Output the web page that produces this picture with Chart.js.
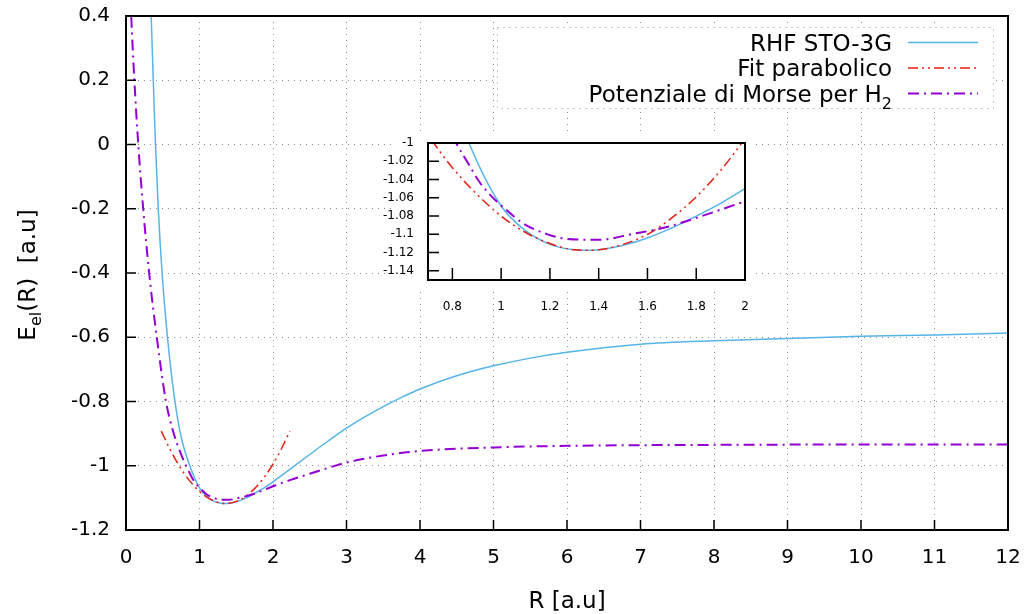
<!DOCTYPE html>
<html>
<head>
<meta charset="utf-8">
<script src="https://cdn.jsdelivr.net/npm/chart.js@4"></script>
<style>
  body { margin: 0; background: #fff; }
  #wrap { position: relative; width: 1025px; height: 614px; }
  #main { position: absolute; left: 0; top: 0; }
  #inset { position: absolute; left: 370px; top: 120px; }
</style>
</head>
<body>
<div id="wrap">
  <canvas id="main" width="1025" height="614"></canvas>
  <canvas id="inset" width="400" height="200"></canvas>
</div>
<script>
// values
var rhfR = [0.33, 0.343, 0.371, 0.401, 0.439, 0.491, 0.564, 0.666, 0.75, 0.868,
            1.0, 1.1, 1.2, 1.3, 1.35, 1.4, 1.5, 1.6, 1.7, 1.8, 1.9, 2.0, 2.1,
            2.5, 2.75, 3.0, 3.25, 3.5, 3.75, 4.0, 4.5, 5.0, 5.5, 6.0, 7.0, 8.0, 9.0, 10.0, 11.0, 12.0];
var rhfE = [0.49, 0.40, 0.20, 0.00, -0.20, -0.40, -0.60, -0.80, -0.91, -1.00,
            -1.069, -1.096, -1.111, -1.117, -1.1175, -1.117, -1.112, -1.104, -1.093, -1.080, -1.066, -1.050, -1.033,
            -0.965, -0.923, -0.883, -0.848, -0.816, -0.787, -0.761, -0.720, -0.689, -0.665, -0.647, -0.622, -0.611, -0.604, -0.597, -0.593, -0.587];

var fitR = [0.48, 0.6, 0.7, 0.8, 0.9, 1.0, 1.1, 1.2, 1.3, 1.355, 1.4, 1.5, 1.6, 1.7, 1.8, 1.9, 2.0, 2.1, 2.23];
var fitE = [-0.892, -0.949, -0.991, -1.027, -1.056, -1.080, -1.098, -1.110, -1.117, -1.1175,
            -1.117, -1.111, -1.100, -1.082, -1.059, -1.030, -0.995, -0.954, -0.892];

var morseR = [0.06, 0.071, 0.114, 0.167, 0.234, 0.315, 0.419, 0.544, 0.65,
              0.816, 0.864, 0.912, 0.974, 1.02, 1.09, 1.19, 1.27, 1.40, 1.54, 1.68, 1.80, 2.0,
              2.24, 2.5, 3.0, 3.5, 4.0, 5.0, 6.0, 8.0, 10.0, 12.0];
var morseE = [0.47, 0.40, 0.20, 0.00, -0.20, -0.40, -0.60, -0.80, -0.90,
              -1.000, -1.022, -1.043, -1.062, -1.073, -1.088, -1.100, -1.105, -1.106, -1.0995, -1.092, -1.082, -1.064,
              -1.044, -1.025, -0.990, -0.968, -0.954, -0.943, -0.938, -0.935, -0.934, -0.934];

var xTicks = [0, 1, 2, 3, 4, 5, 6, 7, 8, 9, 10, 11, 12];
var yTicks = [-1.2, -1, -0.8, -0.6, -0.4, -0.2, 0, 0.2, 0.4];
var insetXTicks = [0.8, 1, 1.2, 1.4, 1.6, 1.8, 2];
var insetYTicks = [-1.14, -1.12, -1.1, -1.08, -1.06, -1.04, -1.02, -1];

var seriesNames = ['RHF STO-3G', 'Fit parabolico', 'Potenziale di Morse per H'];
var seriesSubs = ['', '', '2'];

var styles = [
  {color: '#56b4e9', width: 1.5, dash: []},
  {color: '#e51e10', width: 1.5, dash: [10, 4, 2, 4, 2, 4]},
  {color: '#9400d3', width: 2, dash: [11, 5, 2, 5]}
];

Chart.defaults.font.family = 'DejaVu Sans';
Chart.defaults.color = '#000';

function pts(r, e) {
  return r.map(function (v, i) { return {x: v, y: e[i]}; });
}

function makeDatasets() {
  var sets = [pts(rhfR, rhfE), pts(fitR, fitE), pts(morseR, morseE)];
  return sets.map(function (d, i) {
    return {
      label: seriesNames[i], data: d, showLine: true, fill: false,
      borderColor: styles[i].color, borderWidth: styles[i].width, borderDash: styles[i].dash,
      pointRadius: 0, cubicInterpolationMode: 'monotone', order: 3 - i
    };
  });
}

function fixTicks(vals) {
  return function (s) { s.ticks = vals.map(function (v) { return {value: v}; }); };
}
function fmt(v) { return String(+v.toFixed(2)); }

// fixed axis box, no extra room for overhanging labels
function fitX(h) {
  return function (s) { s.height = h; s.paddingLeft = 0; s.paddingRight = 0; s.paddingTop = 0; s.paddingBottom = 0; };
}
function fitY(w) {
  return function (s) { s.width = w; s.paddingLeft = 0; s.paddingRight = 0; s.paddingTop = 0; s.paddingBottom = 0; };
}

// text with optional subscript pieces
function textRun(c, parts, x, y, align) {
  var total = 0;
  parts.forEach(function (p) { c.font = p.size + 'px "DejaVu Sans"'; p.w = c.measureText(p.t).width; total += p.w; });
  var sx = align === 'right' ? x - total : (align === 'center' ? x - total / 2 : x);
  c.textAlign = 'left';
  c.textBaseline = 'alphabetic';
  parts.forEach(function (p) {
    c.font = p.size + 'px "DejaVu Sans"';
    c.fillText(p.t, sx, y + p.dy);
    sx += p.w;
  });
}

var mainDecor = {
  id: 'mainDecor',
  afterDraw: function (chart) {
    var c = chart.ctx, a = chart.chartArea, xs = chart.scales.x, ys = chart.scales.y;
    c.save();
    c.strokeStyle = '#000';
    c.lineWidth = 1.5;
    c.setLineDash([]);
    c.beginPath();
    yTicks.forEach(function (v) { var y = ys.getPixelForValue(v); c.moveTo(a.left, y); c.lineTo(a.left + 10, y); });
    xTicks.forEach(function (v) { var x = xs.getPixelForValue(v); c.moveTo(x, a.bottom); c.lineTo(x, a.bottom - 10); });
    c.stroke();
    c.lineWidth = 2;
    c.strokeRect(a.left, a.top, a.right - a.left, a.bottom - a.top);

    // legend
    c.fillStyle = '#fff';
    c.fillRect(497, 27, 496, 81);
    c.strokeStyle = 'rgba(0,0,0,0.45)';
    c.lineWidth = 1;
    c.setLineDash([1, 5]);
    c.strokeRect(497.5, 27.5, 496, 81);
    var rows = [42.5, 68, 93.5];
    c.fillStyle = '#000';
    rows.forEach(function (ry, i) {
      var parts = [{t: seriesNames[i], size: 23, dy: 0}];
      if (seriesSubs[i]) parts.push({t: seriesSubs[i], size: 16, dy: 7});
      textRun(c, parts, 892, ry + 8.4, 'right');
      c.strokeStyle = styles[i].color;
      c.lineWidth = styles[i].width;
      c.setLineDash(styles[i].dash);
      c.beginPath();
      c.moveTo(908, ry);
      c.lineTo(978, ry);
      c.stroke();
    });

    // axis titles
    c.setLineDash([]);
    c.fillStyle = '#000';
    textRun(c, [{t: 'R [a.u]', size: 23, dy: 0}], 567, 600 + 8.4, 'center');
    c.translate(27, 275);
    c.rotate(-Math.PI / 2);
    textRun(c, [{t: 'E', size: 23, dy: 0}, {t: 'el', size: 16, dy: 6}, {t: '(R)  [a.u]', size: 23, dy: 0}], 0, 8.4, 'center');
    c.restore();
  }
};

var insetDecor = {
  id: 'insetDecor',
  beforeDraw: function (chart) {
    var c = chart.ctx;
    c.save();
    c.fillStyle = '#fff';
    c.fillRect(22, 16, 360, 156);
    c.restore();
  },
  afterDraw: function (chart) {
    var c = chart.ctx, a = chart.chartArea, xs = chart.scales.x, ys = chart.scales.y;
    c.save();
    c.strokeStyle = '#000';
    c.lineWidth = 1.5;
    c.setLineDash([]);
    c.beginPath();
    insetYTicks.forEach(function (v) { var y = ys.getPixelForValue(v); c.moveTo(a.left, y); c.lineTo(a.left + 11, y); });
    insetXTicks.forEach(function (v) { var x = xs.getPixelForValue(v); c.moveTo(x, a.bottom); c.lineTo(x, a.bottom - 12); });
    c.stroke();
    c.lineWidth = 2;
    c.strokeRect(a.left, a.top, a.right - a.left, a.bottom - a.top);
    c.restore();
  }
};

new Chart(document.getElementById('main'), {
  type: 'scatter',
  data: {datasets: makeDatasets()},
  options: {
    responsive: false, animation: false, events: [],
    layout: {padding: {top: 16, right: 17, left: 0, bottom: 0}},
    plugins: {legend: {display: false}, tooltip: {enabled: false}},
    scales: {
      x: {
        type: 'linear', min: 0, max: 12,
        afterBuildTicks: fixTicks(xTicks),
        afterFit: fitX(84),
        grid: {color: 'rgba(0,0,0,0.45)', lineWidth: 1, drawTicks: false},
        border: {display: false, dash: [1, 5]},
        ticks: {font: {size: 20}, padding: 16, maxRotation: 0, autoSkip: false, callback: fmt}
      },
      y: {
        type: 'linear', min: -1.2, max: 0.4,
        afterBuildTicks: fixTicks(yTicks),
        afterFit: fitY(126),
        grid: {color: 'rgba(0,0,0,0.45)', lineWidth: 1, drawTicks: false},
        border: {display: false, dash: [1, 5]},
        ticks: {font: {size: 20}, padding: 16, autoSkip: false, callback: fmt}
      }
    }
  },
  plugins: [mainDecor]
});

new Chart(document.getElementById('inset'), {
  type: 'scatter',
  data: {datasets: makeDatasets()},
  options: {
    responsive: false, animation: false, events: [],
    layout: {padding: {top: 23, right: 25, left: 0, bottom: 0}},
    plugins: {legend: {display: false}, tooltip: {enabled: false}},
    scales: {
      x: {
        type: 'linear', min: 0.7, max: 2.0,
        afterBuildTicks: fixTicks(insetXTicks),
        afterFit: fitX(40),
        grid: {display: false, drawTicks: false},
        border: {display: false},
        ticks: {font: {size: 12}, padding: 20, maxRotation: 0, autoSkip: false, callback: fmt}
      },
      y: {
        type: 'linear', min: -1.15, max: -1.0,
        afterBuildTicks: fixTicks(insetYTicks),
        afterFit: fitY(58),
        grid: {display: false, drawTicks: false},
        border: {display: false},
        ticks: {font: {size: 12}, padding: 14, autoSkip: false, callback: fmt}
      }
    }
  },
  plugins: [insetDecor]
});
</script>
</body>
</html>
